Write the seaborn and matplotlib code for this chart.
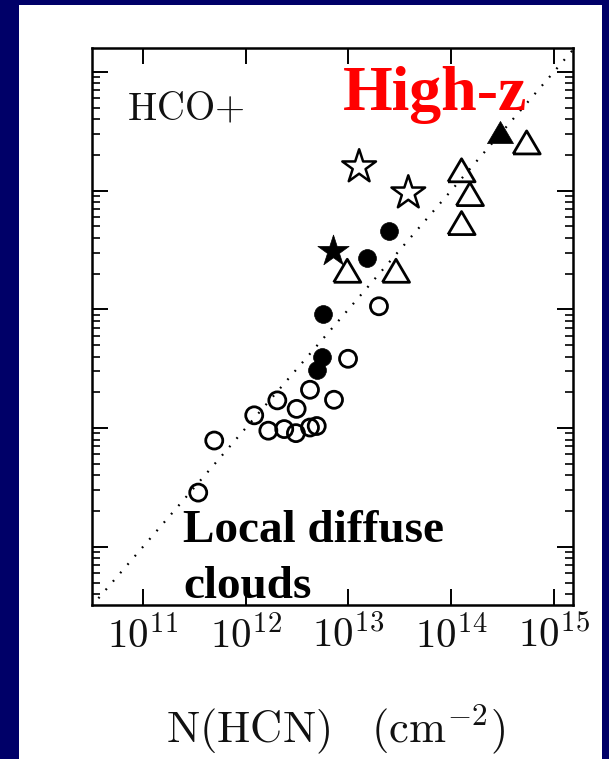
import matplotlib
matplotlib.use("Agg")
import matplotlib.pyplot as plt
import seaborn as sns
import pandas as pd
from matplotlib.patches import Rectangle
from matplotlib.ticker import NullFormatter

# ---- data ----
open_circ_x = [3.45e11, 4.94e11, 1.21e12, 2.03e12, 3.13e12, 4.22e12, 7.23e12,
               1.66e12, 2.37e12, 3.08e12, 4.22e12, 4.91e12, 9.9e12, 1.98e13]
open_circ_y = [2.86e11, 7.85e11, 1.28e12, 1.71e12, 1.45e12, 2.10e12, 1.73e12,
               9.5e11, 9.8e11, 9.06e11, 1.01e12, 1.04e12, 3.83e12, 1.06e13]
fill_circ_x = [2.48e13, 1.51e13, 5.65e12, 5.52e12, 4.93e12]
fill_circ_y = [4.58e13, 2.72e13, 9.16e12, 3.98e12, 3.10e12]
open_star_x = [1.27e13, 3.82e13]
open_star_y = [1.58e14, 9.53e13]
fill_star_x = [7.11e12]
fill_star_y = [3.07e13]
open_tri_x = [9.73e12, 2.90e13, 1.26e14, 1.52e14, 1.26e14, 5.42e14]
open_tri_y = [2.11e13, 2.11e13, 1.48e14, 9.33e13, 5.32e13, 2.54e14]
fill_tri_x = [2.98e14]
fill_tri_y = [3.08e14]
line_x = [1e10, 1e16]
line_y = [1e10, 1e16]

x_ticks = [1e11, 1e12, 1e13, 1e14, 1e15]
x_tick_labels = [r"$10^{11}$", r"$10^{12}$", r"$10^{13}$", r"$10^{14}$", r"$10^{15}$"]
y_ticks = [1e11, 1e12, 1e13, 1e14, 1e15]
x_label = r"$\mathrm{N(HCN)}\quad(\mathrm{cm}^{-2})$"
panel_label = r"$\mathrm{HCO}{+}$"
title_red = "High-z"
note_lines = ["Local diffuse", "clouds"]

sns.set_style("ticks")
plt.rcParams["mathtext.fontset"] = "cm"
plt.rcParams["font.family"] = ["DejaVu Serif"]

fig = plt.figure(figsize=(6.09, 7.59), dpi=100, facecolor="#000068")
fig.add_artist(Rectangle((19 / 609, 0), 583 / 609, 754 / 759, transform=fig.transFigure,
                         facecolor="white", edgecolor="none", zorder=-5))
ax = fig.add_axes([92 / 609, 154 / 759, 481 / 609, 557 / 759])
ax.set_facecolor("white")

ax.set_xscale("log")
ax.set_yscale("log")

sns.lineplot(x=line_x, y=line_y, ax=ax, color="black", lw=1.6,
             linestyle=(0, (0.8, 4.2)), zorder=1)

tri = [(-1, -0.85), (1, -0.85), (0, 0.85), (-1, -0.85)]

sns.scatterplot(x=open_circ_x, y=open_circ_y, ax=ax, marker="o", s=150,
                facecolor="none", edgecolor="black", linewidth=2.0, zorder=3)
sns.scatterplot(x=fill_circ_x, y=fill_circ_y, ax=ax, marker="o", s=165,
                facecolor="black", edgecolor="black", linewidth=0.5, zorder=3)
sns.scatterplot(x=open_star_x, y=open_star_y, ax=ax, marker="*", s=650,
                facecolor="none", edgecolor="black", linewidth=1.8, zorder=3)
sns.scatterplot(x=fill_star_x, y=fill_star_y, ax=ax, marker="*", s=560,
                facecolor="black", edgecolor="black", linewidth=0.5, zorder=3)
sns.scatterplot(x=open_tri_x, y=open_tri_y, ax=ax, marker=tri, s=380,
                facecolor="none", edgecolor="black", linewidth=2.0, zorder=3)
sns.scatterplot(x=fill_tri_x, y=fill_tri_y, ax=ax, marker=tri, s=350,
                facecolor="black", edgecolor="black", linewidth=0.5, zorder=3)

ax.set_xlim(10 ** 10.504, 10 ** 15.185)
ax.set_ylim(10 ** 10.51, 10 ** 15.2)

ax.set_xticks(x_ticks, labels=x_tick_labels)
ax.xaxis.set_minor_formatter(NullFormatter())
ax.set_yticks(y_ticks)
ax.yaxis.set_major_formatter(NullFormatter())
ax.yaxis.set_minor_formatter(NullFormatter())

ax.tick_params(which="both", direction="in", top=True, right=True,
               bottom=True, left=True, color="black")
ax.tick_params(which="major", length=11.5, width=1.4, pad=8, labelsize=29.5,
               labelcolor="#111111")
ax.tick_params(which="minor", length=5.5, width=1.2)
for sp in ax.spines.values():
    sp.set_linewidth(1.8)
    sp.set_color("black")

ax.set_xlabel(x_label, fontsize=32, color="#111111")
ax.xaxis.label.set_va("baseline")
ax.xaxis.set_label_coords(0.507, (605 - 742) / 557)
ax.set_ylabel("")

ax.text((127 - 92) / 481, (605 - 120) / 557, panel_label, transform=ax.transAxes,
        fontsize=28, color="#111111", va="baseline", ha="left")
ax.text((343 - 92) / 481, (605 - 110) / 557, title_red, transform=ax.transAxes,
        fontsize=46, color="red", fontweight="bold", family="Liberation Serif",
        va="baseline", ha="left", zorder=5)
ax.text((183 - 92) / 481, (605 - 542) / 557, note_lines[0], transform=ax.transAxes,
        fontsize=34, color="black", fontweight="bold", family="Liberation Serif",
        va="baseline", ha="left", zorder=6, clip_on=False)
ax.text((183 - 92) / 481, (605 - 598) / 557, note_lines[1], transform=ax.transAxes,
        fontsize=34, color="black", fontweight="bold", family="Liberation Serif",
        va="baseline", ha="left", zorder=6, clip_on=False)

if ax.get_legend() is not None:
    ax.get_legend().remove()

fig.savefig("out.png", dpi=100, facecolor=fig.get_facecolor())
